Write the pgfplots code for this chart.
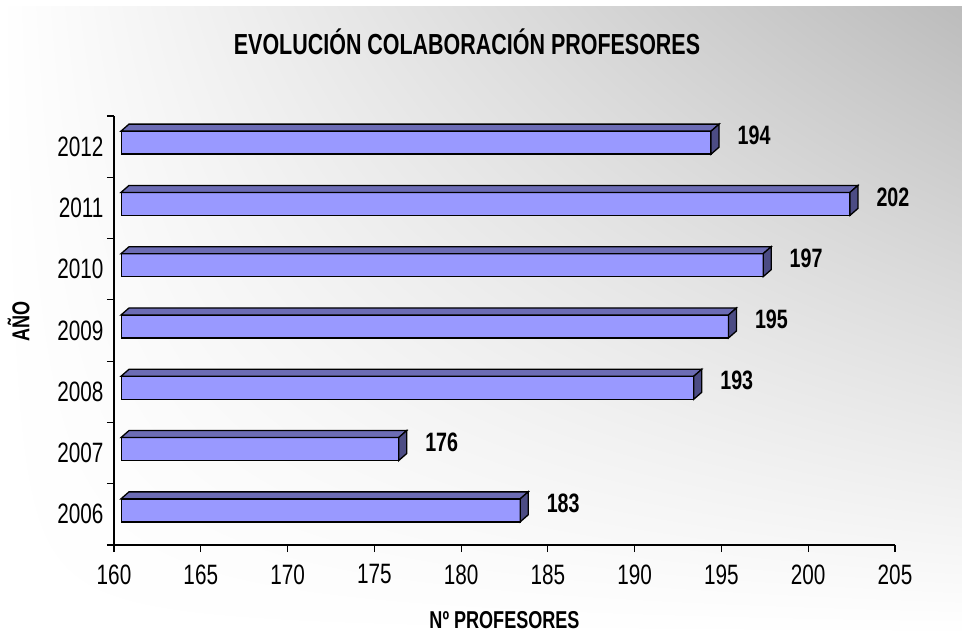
\documentclass[border=0pt]{standalone}
\usepackage{fontspec}
\setmainfont{Liberation Sans}[FakeStretch=0.74]
\usepackage{pgfplots}
\usepackage{pgfplotstable}
\pgfplotsset{compat=1.18}
\usetikzlibrary{shadings}

\definecolor{frontcol}{RGB}{153,153,255}
\definecolor{topcol}{RGB}{108,108,180}
\definecolor{sidecol}{RGB}{76,76,132}
\definecolor{bggray}{RGB}{188,188,188}

% one row per year, 0 = 2006
\pgfplotstableread{
year val
0 183
1 176
2 193
3 195
4 197
5 202
6 194
}\datatable

\newdimen\barL
% top and right faces of the 3D bar, drawn from the bar's end point
\pgfdeclareplotmark{box3d}{%
  \pgfmathsetlength\barL{(\vval-160)*17.3556}%
  \pgfsetlinewidth{1.3pt}%
  \pgfsetstrokecolor{black}%
  \pgfpathmoveto{\pgfqpoint{-\barL}{11.5pt}}%
  \pgfpathlineto{\pgfqpoint{0pt}{11.5pt}}%
  \pgfpathlineto{\pgfqpoint{8pt}{18.5pt}}%
  \pgfpathlineto{\pgfpointadd{\pgfqpoint{-\barL}{18.5pt}}{\pgfqpoint{8pt}{0pt}}}%
  \pgfpathclose
  \pgfsetfillcolor{topcol}%
  \pgfusepath{fill,stroke}%
  \pgfpathmoveto{\pgfqpoint{0pt}{-11.5pt}}%
  \pgfpathlineto{\pgfqpoint{0pt}{11.5pt}}%
  \pgfpathlineto{\pgfqpoint{8pt}{18.5pt}}%
  \pgfpathlineto{\pgfqpoint{8pt}{-4.5pt}}%
  \pgfpathclose
  \pgfsetfillcolor{sidecol}%
  \pgfusepath{fill,stroke}%
}

\begin{document}
\begin{tikzpicture}
\useasboundingbox (0,0) rectangle (962pt,635pt);
\fill[white] (0,0) rectangle (962pt,635pt);
\shade[upper left=white, upper right=bggray, lower left=white, lower right=white]
  (0,0) rectangle (962pt,628pt);

% visible axis: lines, ticks, labels
\begin{axis}[
  at={(114pt,90pt)}, anchor=south west,
  scale only axis, width=781pt, height=429pt,
  xmin=160, xmax=205, ymin=-0.5, ymax=6.5,
  axis x line*=bottom, axis y line*=left,
  axis line style={line width=1.2pt},
  xtick={160,165,...,205},
  ytick={-0.5,0.5,...,6.5},
  yticklabels={2006,2007,2008,2009,2010,2011,2012},
  y tick label as interval,
  tick align=outside, major tick length=7pt,
  tick style={black, line width=1.1pt},
  /pgf/number format/assume math mode=true,
  tick label style={font=\fontsize{28}{32}\selectfont},
  xticklabel style={yshift=-9pt},
  title={EVOLUCIÓN COLABORACIÓN PROFESORES},
  title style={at={(axis description cs:0.452,1.158)}, anchor=center,
    font=\bfseries\fontsize{29}{34}\selectfont},
  xlabel={Nº PROFESORES},
  xlabel style={at={(axis description cs:0.5,-0.175)}, anchor=center,
    font=\bfseries\fontsize{24.4}{28}\selectfont},
  ylabel={AÑO},
  ylabel style={at={(axis description cs:-0.122,0.52)}, anchor=center,
    font=\bfseries\fontsize{24.4}{28}\selectfont},
]
\end{axis}

% data axis, shifted by the 3D projection of the bars' front faces
\begin{axis}[
  at={(121pt,94pt)}, anchor=south west,
  scale only axis, width=781pt, height=429pt,
  xmin=160, xmax=205, ymin=-0.5, ymax=6.5,
  hide axis,
]
\addplot[xbar, bar width=23pt, fill=frontcol, draw=black, line width=1.3pt,
  point meta=explicit symbolic,
  nodes near coords,
  nodes near coords style={anchor=center, xshift=43pt, yshift=7pt,
    font=\bfseries\fontsize{26.6}{30}\selectfont}]
  table[x=val, y=year, meta=val] {\datatable};
\addplot[only marks, mark=box3d,
  visualization depends on=rawx\as\vval]
  table[x=val, y=year] {\datatable};
\end{axis}
\end{tikzpicture}
\end{document}
